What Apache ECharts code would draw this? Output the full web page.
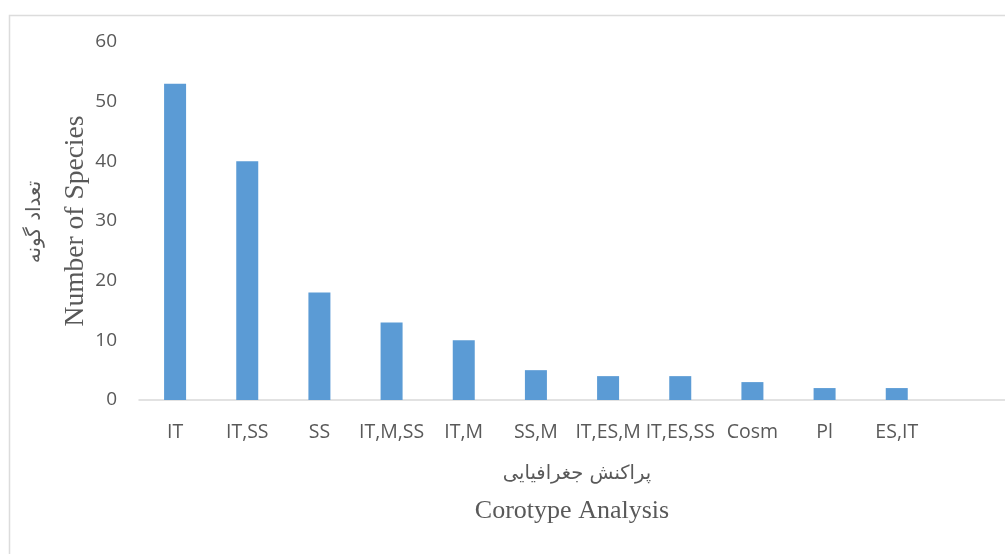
<!DOCTYPE html>
<html>
<head>
<meta charset="utf-8">
<script src="https://cdn.jsdelivr.net/npm/echarts@6/dist/echarts.min.js"></script>
<style>
  html, body { margin: 0; padding: 0; background: #fff; }
  #chart { width: 1005px; height: 554px; }
</style>
</head>
<body>
<div id="chart"></div>
<script>
// Chorotype groups and number of species in each
const categories = ['IT', 'IT,SS', 'SS', 'IT,M,SS', 'IT,M', 'SS,M', 'IT,ES,M', 'IT,ES,SS', 'Cosm', 'Pl', 'ES,IT'];
const speciesCounts = [53, 40, 18, 13, 10, 5, 4, 4, 3, 2, 2];
const yTicks = [0, 10, 20, 30, 40, 50, 60];

const xTitleEn = 'Corotype Analysis';
const xTitleFa = 'پراکنش جغرافیایی';
const yTitleEn = 'Number of Species';
const yTitleFa = 'تعداد گونه';

const labelColor = '#595959';
const chart = echarts.init(document.getElementById('chart'));

chart.setOption({
  animation: false,
  backgroundColor: '#ffffff',
  grid: { left: 139, right: -10, top: 42, bottom: 154, containLabel: false },
  xAxis: {
    type: 'category',
    data: categories,
    max: categories.length,           // one spare slot so the baseline runs on to the edge
    axisTick: { show: false },
    axisLine: { lineStyle: { color: '#d9d9d9', width: 1.5 } },
    axisLabel: { color: labelColor, fontFamily: 'Open Sans', fontSize: 19.5, margin: 22, interval: 0 },
    name: xTitleEn,
    nameLocation: 'middle',
    nameGap: 98,
    nameMoveOverlap: false,
    nameTextStyle: { color: labelColor, fontFamily: 'Liberation Serif', fontSize: 26 }
  },
  yAxis: {
    type: 'value',
    min: yTicks[0],
    max: yTicks[yTicks.length - 1],
    interval: yTicks[1] - yTicks[0],
    axisLine: { show: false },
    axisTick: { show: false },
    splitLine: { show: false },
    axisLabel: { color: labelColor, fontFamily: 'Open Sans', fontSize: 19, margin: 22 },
    name: yTitleEn,
    nameLocation: 'middle',
    nameGap: 49,
    nameMoveOverlap: false,
    nameTextStyle: { color: labelColor, fontFamily: 'Liberation Serif', fontSize: 27.5 }
  },
  series: [{
    type: 'bar',
    data: speciesCounts,
    barWidth: 22,
    itemStyle: { color: '#5b9bd5' }
  }],
  graphic: [
    {
      type: 'rect',
      left: 7, top: 13, silent: true,
      shape: { width: 1100, height: 600 },
      style: { fill: 'none', stroke: '#dcdcdc', lineWidth: 1.5 }
    },
    {
      type: 'text',
      x: 35, y: 222, rotation: Math.PI / 2, silent: true,
      style: { text: yTitleFa, fill: labelColor, font: '20px "DejaVu Sans"', align: 'center', verticalAlign: 'middle' }
    },
    {
      type: 'text',
      x: 577, y: 474, silent: true,
      style: { text: xTitleFa, fill: labelColor, font: '19.5px "DejaVu Sans"', align: 'center', verticalAlign: 'middle' }
    }
  ]
});
</script>
</body>
</html>
